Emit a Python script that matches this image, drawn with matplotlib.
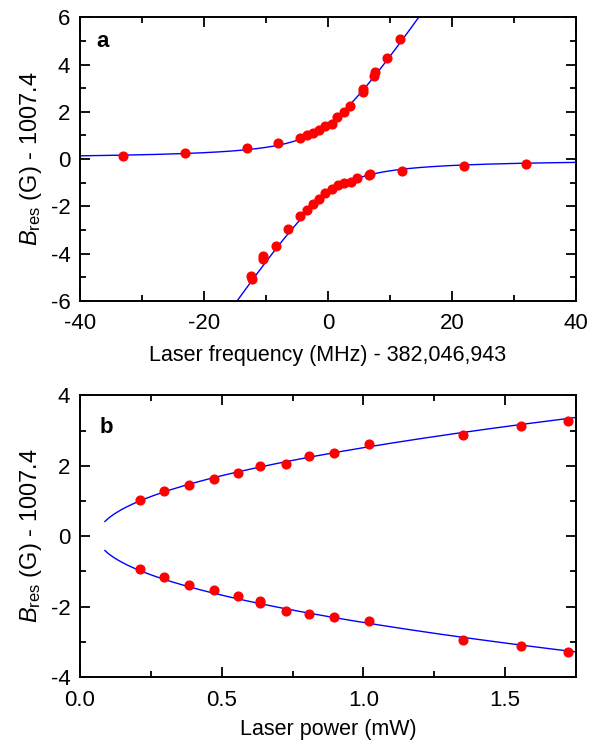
import numpy as np
import matplotlib
matplotlib.use("Agg")
import matplotlib.pyplot as plt
from matplotlib.ticker import MultipleLocator, FormatStrFormatter

plt.rcParams['font.family'] = ['Liberation Sans', 'DejaVu Sans']
plt.rcParams['mathtext.fontset'] = 'custom'
plt.rcParams['mathtext.rm'] = 'Liberation Sans'
plt.rcParams['mathtext.it'] = 'Liberation Sans:italic'
plt.rcParams['axes.unicode_minus'] = False

# ---- Panel a data ----
freq_upper = [-33.0, -23.0, -13.0, -8.0, -4.5, -3.4, -2.4, -1.4, -0.4, 0.6, 1.5, 2.6,
              3.6, 5.6, 5.7, 7.5, 7.6, 9.5, 11.7]
b_upper = [0.14, 0.25, 0.47, 0.68, 0.90, 1.00, 1.10, 1.24, 1.38, 1.47, 1.78, 2.00,
           2.23, 2.82, 2.97, 3.50, 3.67, 4.29, 5.07]
freq_lower = [-12.3, -12.4, -10.5, -10.4, -8.4, -6.5, -4.5, -3.4, -2.4, -1.5, -0.4, 0.6,
              1.7, 2.6, 3.7, 4.7, 6.6, 6.8, 11.9, 22.0, 32.0]
b_lower = [-5.06, -4.94, -4.22, -4.10, -3.66, -2.94, -2.40, -2.15, -1.89, -1.68, -1.44, -1.26,
           -1.10, -1.03, -0.96, -0.79, -0.68, -0.65, -0.50, -0.28, -0.19]
# avoided-crossing fit parameters
fit_a_slope = 0.385
fit_a_gap = 1.47

# ---- Panel b data ----
power = [0.212, 0.297, 0.384, 0.473, 0.556, 0.637, 0.727, 0.807, 0.896, 1.020, 1.353, 1.557, 1.723]
b_up_b = [1.04, 1.29, 1.46, 1.63, 1.80, 1.98, 2.05, 2.28, 2.35, 2.63, 2.86, 3.12, 3.27]
power_lo = [0.212, 0.297, 0.384, 0.473, 0.556, 0.637, 0.637, 0.727, 0.807, 0.896, 1.020, 1.353, 1.557, 1.723]
b_lo_b = [-0.94, -1.15, -1.39, -1.53, -1.70, -1.84, -1.90, -2.12, -2.20, -2.29, -2.41, -2.96, -3.12, -3.30]
# sqrt fit parameters
fit_b_p0 = 0.062
fit_b_a_up = 2.594
fit_b_a_lo = 2.53
fit_b_pmin = 0.088

fig = plt.figure(figsize=(5.9, 7.4), dpi=100)
ax1 = fig.add_axes([0.1356, 0.5934, 0.8404, 0.3832])
ax2 = fig.add_axes([0.1356, 0.0851, 0.8404, 0.3807])

marker_kw = dict(linestyle='none', marker='o', color='#ff0000', markersize=6.3, zorder=3)
line_kw = dict(color='#0000ff', linewidth=1.0, zorder=2)

ylabel_txt = r'$B_{\mathrm{res}}$ (G) - 1007.4'

# Panel a
fgrid = np.linspace(-40, 40, 800)
half = fit_a_slope * fgrid / 2
ax1.plot(fgrid, half + np.sqrt(half**2 + fit_a_gap**2), **line_kw)
ax1.plot(fgrid, half - np.sqrt(half**2 + fit_a_gap**2), **line_kw)
ax1.plot(freq_upper, b_upper, **marker_kw)
ax1.plot(freq_lower, b_lower, **marker_kw)
ax1.set_xlim(-40, 40)
ax1.set_ylim(-6, 6)
ax1.xaxis.set_major_locator(MultipleLocator(20))
ax1.xaxis.set_minor_locator(MultipleLocator(10))
ax1.yaxis.set_major_locator(MultipleLocator(2))
ax1.yaxis.set_minor_locator(MultipleLocator(1))
ax1.set_xlabel('Laser frequency (MHz) - 382,046,943', fontsize=15.5, labelpad=8)
ax1.set_ylabel(ylabel_txt, fontsize=17, labelpad=5)
ax1.text(0.034, 0.897, 'a', transform=ax1.transAxes, fontsize=16, fontweight='bold', va='baseline')

# Panel b
pgrid = np.linspace(fit_b_pmin, 1.75, 400)
ax2.plot(pgrid, fit_b_a_up * np.sqrt(pgrid - fit_b_p0), **line_kw)
ax2.plot(pgrid, -fit_b_a_lo * np.sqrt(pgrid - fit_b_p0), **line_kw)
ax2.plot(power, b_up_b, **marker_kw)
ax2.plot(power_lo, b_lo_b, **marker_kw)
ax2.set_xlim(0, 1.75)
ax2.set_ylim(-4, 4)
ax2.xaxis.set_major_locator(MultipleLocator(0.5))
ax2.xaxis.set_minor_locator(MultipleLocator(0.25))
ax2.xaxis.set_major_formatter(FormatStrFormatter('%.1f'))
ax2.yaxis.set_major_locator(MultipleLocator(2))
ax2.yaxis.set_minor_locator(MultipleLocator(1))
ax2.set_xlabel('Laser power (mW)', fontsize=15.5, labelpad=6)
ax2.set_ylabel(ylabel_txt, fontsize=17, labelpad=5)
ax2.text(0.039, 0.867, 'b', transform=ax2.transAxes, fontsize=16, fontweight='bold', va='baseline')

for ax in (ax1, ax2):
    for s in ax.spines.values():
        s.set_linewidth(1.4)
    ax.tick_params(which='both', direction='in', top=True, right=True, width=1.3, labelsize=16)
    ax.tick_params(which='major', length=7)
    ax.tick_params(which='minor', length=4.3)
    ax.tick_params(axis='x', which='major', pad=9)
    ax.tick_params(axis='y', which='major', pad=7)

fig.savefig('out.png', dpi=100)
